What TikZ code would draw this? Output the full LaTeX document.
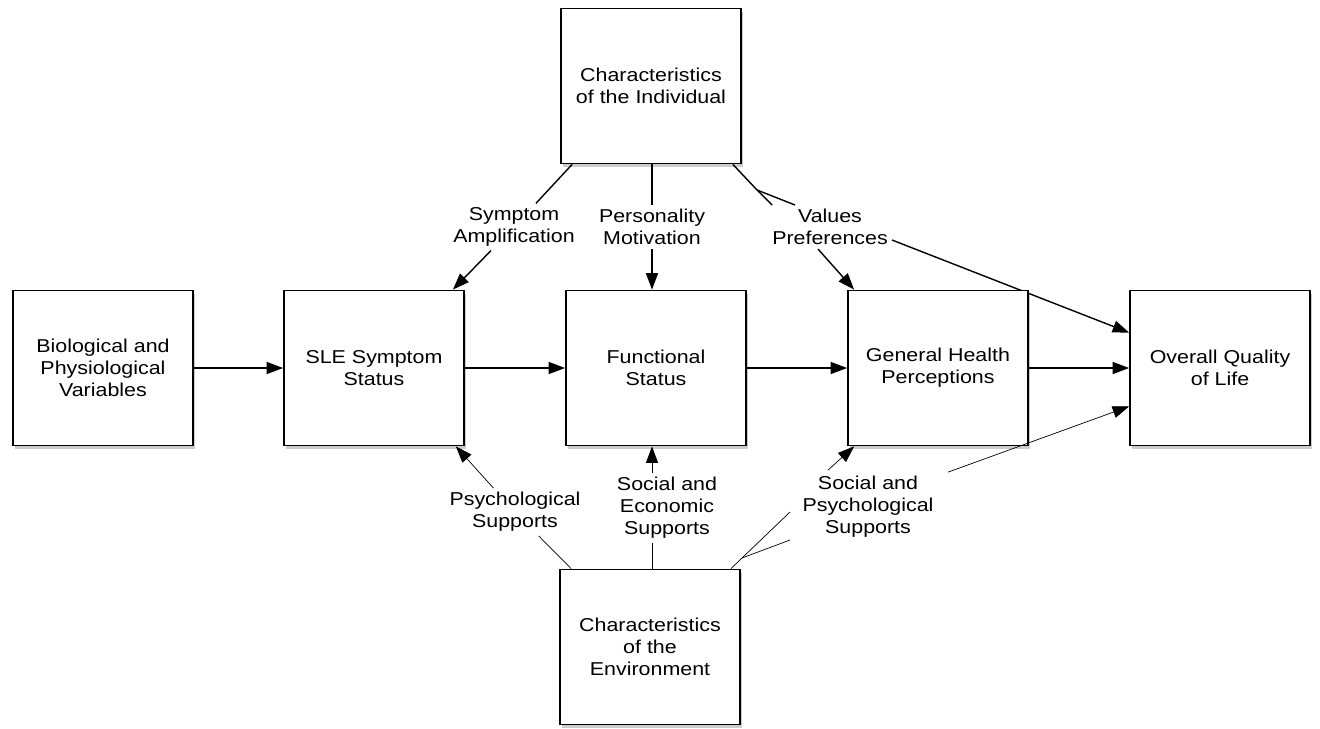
\documentclass[tikz,border=0pt]{standalone}
\usepackage{fontspec}
\setmainfont{Liberation Sans}[FakeStretch=1.15]
\usetikzlibrary{arrows.meta, calc, shadows, backgrounds}

\begin{document}
\begin{tikzpicture}[
	x = 0.2mm, y = -0.2mm, % one unit is one pixel of the sketch
	> = {Triangle[length=3.3mm, width=2.4mm]}, % arrow head style
	node distance = 5.64cm, % distance between box centres
	line width = 0.8pt % line style
	]
	
	\tikzstyle{box}=[
	draw = black,
	line width = 1pt,
	fill = white,
	drop shadow = {shadow xshift=0.4mm, shadow yshift=-0.7mm, opacity=0.4},
	minimum width = 3.6cm,
	minimum height = 3.1cm,
	align = center,
	font = \fontsize{10.6}{12.5}\selectfont
	]
	\tikzstyle{lbl}=[
	inner sep = 2pt,
	align = center,
	font = \fontsize{10.6}{12.5}\selectfont
	]
	
	\useasboundingbox (0,0) rectangle (1320,728);
	
	% the main row
	\node[box] (func) at (656,368) {Functional\\Status};
	\node[box] (sle) [left of=func] {SLE Symptom\\Status};
	\node[box] (bio) [left of=sle, node distance=5.42cm] {Biological and\\Physiological\\Variables};
	\node[box] (ghp) [right of=func] {General Health\\Perceptions};
	\node[box] (qol) [right of=ghp] {Overall Quality\\of Life};
	
	% individual and environment
	\node[box] (indiv) [above of=func, xshift=-1mm] {Characteristics\\of the Individual};
	\node[box] (env) [below of=func, node distance=5.58cm, xshift=-1.2mm] {Characteristics\\of the\\Environment};
	
	% labels on the links
	\node[lbl] (symamp) at (514,227) {Symptom\\Amplification};
	\node[lbl] (persmot) at (652,227) {Personality\\Motivation};
	\node[lbl] (valpref) at (830,227) {Values\\Preferences};
	\node[lbl] (psysup) at (515,512) {Psychological\\Supports};
	\node[lbl] (socecon) at (667,508) {Social and\\Economic\\Supports};
	\node[lbl] (socpsy) at (868,507) {Social and\\Psychological\\Supports};
	
	\coordinate (ifork) at (757,190);
	\coordinate (vend1) at (772,205);
	\coordinate (vend2) at (795,205);
	\coordinate (efork) at (742,558);
	\coordinate (send1) at (790,512);
	\coordinate (send2) at (790,540);
	\coordinate (icol) at ($(indiv.south)+(1,0)$);
	\coordinate (ecol) at ($(env.north)+(2,0)$);
	
	% main chain
	\draw[->] (bio) -- (sle);
	\draw[->] (sle) -- (func);
	\draw[->] (func) -- (ghp);
	\draw[->] (ghp) -- (qol);
	
	% from the individual
	\draw ($(indiv.south west)+(12,0)$) -- (symamp);
	\draw[->] (symamp) -- ($(sle.north east)+(-12,0)$);
	\draw (icol) -- (icol |- persmot.north);
	\draw[->] (icol |- persmot.south) -- (icol |- func.north);
	\draw ($(indiv.south east)+(-9,0)$) -- (ifork) -- (vend1);
	\draw (ifork) -- (vend2);
	\draw[->] ($(valpref.south)+(-12,0)$) -- ($(ghp.north west)+(7,0)$);
	\begin{pgfonlayer}{background}
		\draw[->, line width=0.8pt] ($(valpref.east)+(0,13)$) -- ($(qol.north west)+(0,43)$);
	\end{pgfonlayer}
	
	% from the environment
	\draw ($(env.north west)+(12,0)$) -- (psysup);
	\draw[->] (psysup) -- ($(sle.south east)+(-9,0)$);
	\draw (ecol) -- (ecol |- socecon.south);
	\draw[->] (ecol |- socecon.north) -- (ecol |- func.south);
	\draw ($(env.north east)+(-10,0)$) -- (efork) -- (send1);
	\draw (efork) -- (send2);
	\draw[->] ($(socpsy.north)+(-40,-2)$) -- ($(ghp.south west)+(7,0)$);
	\draw[->] ($(socpsy.north)+(80,0)$) -- ($(qol.south west)+(0,-40)$);
	
\end{tikzpicture}
\end{document}
